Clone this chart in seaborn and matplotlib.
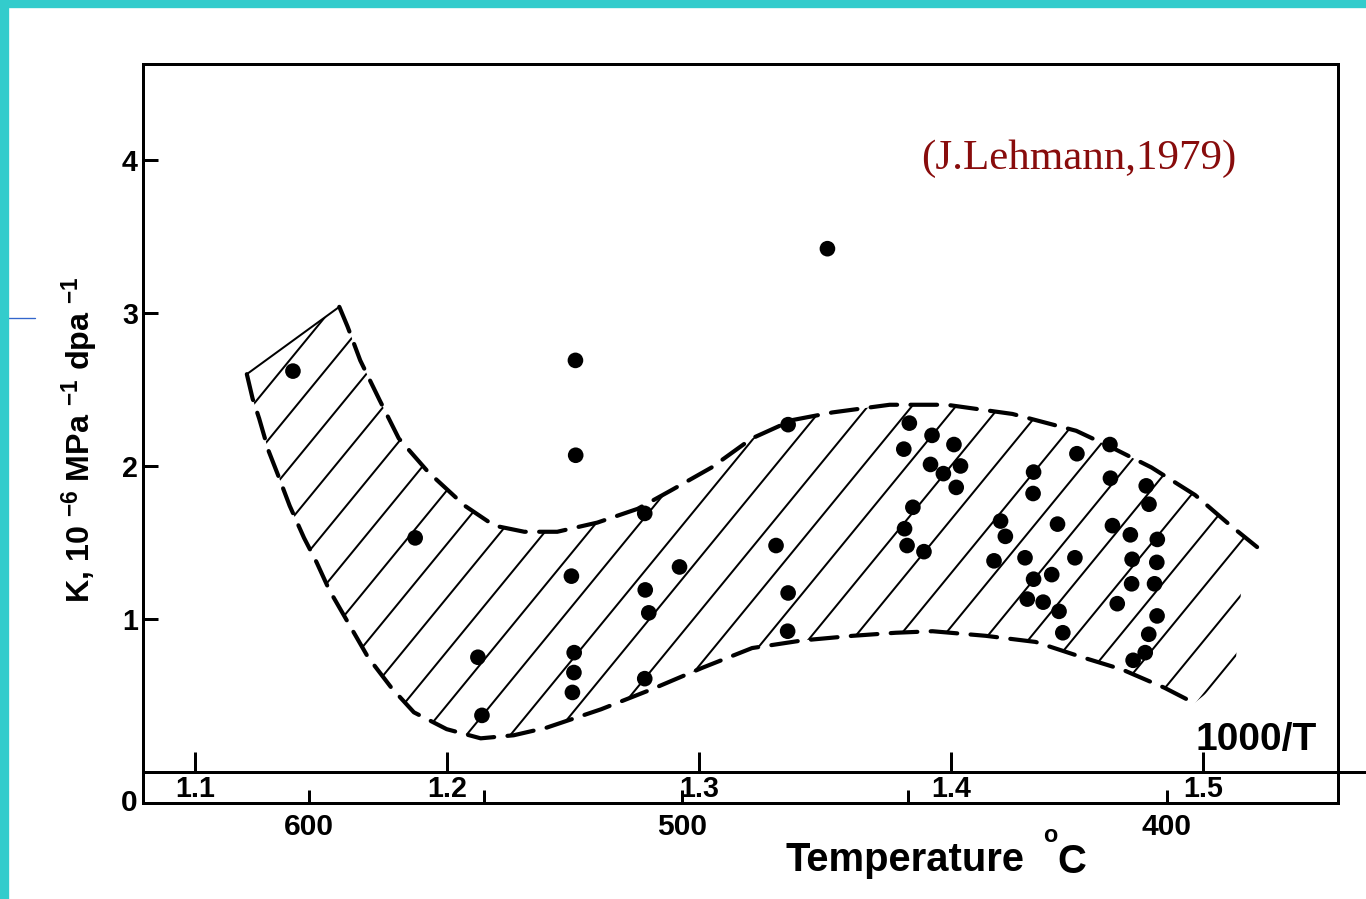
import numpy as np
import matplotlib
matplotlib.use('Agg')
import matplotlib.pyplot as plt
import seaborn as sns
from matplotlib.patches import Rectangle
from matplotlib.lines import Line2D
from matplotlib.collections import LineCollection
from matplotlib.transforms import IdentityTransform

# ---------------- data (1000/T, K) ----------------
pts_x = [1.1389, 1.1874, 1.2123, 1.2139, 1.2510, 1.2511, 1.2494, 1.2505, 1.2504, 1.2498,
         1.2785, 1.2787, 1.2801, 1.2785, 1.2923, 1.3510, 1.3306, 1.3354, 1.3354, 1.3352,
         1.3835, 1.3925, 1.4012, 1.3813, 1.3919, 1.3970, 1.4038, 1.4021, 1.3849, 1.3816,
         1.3826, 1.3893,
         1.4328, 1.4326, 1.4197, 1.4216, 1.4171, 1.4294, 1.4423, 1.4500, 1.4492, 1.4328,
         1.4400, 1.4303, 1.4366, 1.4429, 1.4444,
         1.4631, 1.4633, 1.4775, 1.4786, 1.4641, 1.4712, 1.4819, 1.4719, 1.4817, 1.4717,
         1.4808, 1.4660, 1.4818, 1.4785, 1.4771, 1.4723]
pts_y = [2.62, 1.53, 0.75, 0.37, 2.69, 2.07, 1.28, 0.78, 0.65, 0.52,
         1.69, 1.19, 1.04, 0.61, 1.34, 3.42, 1.48, 2.27, 1.17, 0.92,
         2.28, 2.20, 2.14, 2.11, 2.01, 1.95, 2.00, 1.86, 1.73, 1.59,
         1.48, 1.44,
         1.96, 1.82, 1.64, 1.54, 1.38, 1.40, 1.62, 2.08, 1.40, 1.26,
         1.29, 1.13, 1.11, 1.05, 0.91,
         2.14, 1.92, 1.87, 1.75, 1.61, 1.55, 1.52, 1.39, 1.37, 1.23,
         1.23, 1.10, 1.02, 0.90, 0.78, 0.73]

# band boundaries
upper_x = [1.1573, 1.1606, 1.1656, 1.1733, 1.1809, 1.1926, 1.2071, 1.2188, 1.2307, 1.2438,
           1.2597, 1.2757, 1.2889, 1.3050, 1.3210, 1.3371, 1.3530, 1.3757, 1.3983, 1.4244,
           1.4497, 1.4639, 1.4796, 1.4969, 1.5110, 1.5215]
upper_y = [3.04, 2.91, 2.69, 2.43, 2.18, 1.96, 1.74, 1.61, 1.57, 1.57,
           1.63, 1.72, 1.84, 1.99, 2.18, 2.30, 2.35, 2.40, 2.40, 2.34,
           2.23, 2.12, 1.99, 1.81, 1.61, 1.47]
lower_x = [1.1206, 1.1229, 1.1255, 1.1292, 1.1330, 1.1376, 1.1433, 1.1483, 1.1533, 1.1610,
           1.1687, 1.1780, 1.1869, 1.1999, 1.2134, 1.2265, 1.2396, 1.2612, 1.2812, 1.3012,
           1.3211, 1.3411, 1.3610, 1.3781, 1.3927, 1.4138, 1.4336, 1.4521, 1.4679, 1.4848,
           1.4966]
lower_y = [2.60, 2.44, 2.31, 2.10, 1.94, 1.74, 1.53, 1.37, 1.19, 0.97,
           0.75, 0.55, 0.39, 0.28, 0.22, 0.24, 0.29, 0.41, 0.54, 0.68,
           0.81, 0.86, 0.89, 0.91, 0.92, 0.89, 0.85, 0.75, 0.67, 0.55,
           0.45]
cap_x = [1.5128, 1.5153]
cap_y = [0.67, 1.22]

# axes ticks
k_ticks = [1, 2, 3, 4]
k_labels = ['1', '2', '3', '4']
inv_ticks = [1.1, 1.2, 1.3, 1.4, 1.5]
inv_labels = ['1.1', '1.2', '1.3', '1.4', '1.5']
temp_c = [600, 550, 500, 450, 400]
temp_labels = ['600', '', '500', '', '400']

# ---------------- style ----------------
sns.set_style('ticks')
plt.rcParams['font.family'] = ['Liberation Sans', 'DejaVu Sans']
plt.rcParams['font.weight'] = 'bold'
plt.rcParams['text.color'] = 'black'
plt.rcParams['axes.labelcolor'] = 'black'
plt.rcParams['xtick.color'] = 'black'
plt.rcParams['ytick.color'] = 'black'
plt.rcParams['mathtext.fontset'] = 'custom'
plt.rcParams['mathtext.rm'] = 'Liberation Sans:bold'
plt.rcParams['mathtext.it'] = 'Liberation Sans:bold'
plt.rcParams['mathtext.bf'] = 'Liberation Sans:bold'
plt.rcParams['mathtext.default'] = 'rm'
plt.rcParams['lines.scale_dashes'] = False

W, H, DPI = 1366, 899, 240
fig = plt.figure(figsize=(W / DPI, H / DPI), dpi=DPI)
fig.patch.set_facecolor('white')
L, R, T, B = 143, 1338, 64, 803
ax = fig.add_axes([L / W, 1 - B / H, (R - L) / W, (B - T) / H])
ax.set_facecolor('white')

# band outline (invisible) used as clip region for the hatching
poly_x = list(lower_x) + list(cap_x) + list(upper_x[::-1])
poly_y = list(lower_y) + list(cap_y) + list(upper_y[::-1])
band = ax.fill(poly_x, poly_y, facecolor='none', edgecolor='none', linewidth=0, zorder=1)[0]

# hatching: diagonal strokes ~44 px apart, drawn in pixel space, clipped to the band
slope, step = 1.22, 44
segs = [[(x0, 0), (x0 + H / slope, H)] for x0 in np.arange(-900, W + 50, step)]
hatch = LineCollection(segs, colors='black', linewidths=0.6, transform=IdentityTransform(),
                       zorder=1)
ax.add_collection(hatch, autolim=False)
hatch.set_clip_path(band)

ax.plot(upper_x, upper_y, color='black', lw=1.25, linestyle=(0, (8, 4)),
        dash_capstyle='round', zorder=2)
ax.plot(lower_x, lower_y, color='black', lw=1.25, linestyle=(0, (8, 4)),
        dash_capstyle='round', zorder=2)
ax.plot([lower_x[0], upper_x[0]], [lower_y[0], upper_y[0]], color='black', lw=0.6, zorder=2)

# data points
sns.scatterplot(x=pts_x, y=pts_y, ax=ax, color='black', s=22, edgecolor='none',
                linewidth=0, legend=False, zorder=3)

ax.set_xlim(1.0794, 1.5536)
ax.set_ylim(-0.2026, 4.627)

# frame
for s in ax.spines.values():
    s.set_visible(True)
    s.set_linewidth(0.9)
    s.set_color('black')

ax.set_yticks(k_ticks, labels=k_labels)
ax.tick_params(axis='y', left=True, right=False, direction='in', length=4.5, width=0.9,
               pad=1.5, labelsize=8.6, colors='black')
temp_pos = 1000.0 / (np.array(temp_c) + 273.15)
ax.set_xticks(temp_pos, labels=temp_labels)
ax.tick_params(axis='x', bottom=True, top=False, direction='in', length=4, width=0.9,
               pad=3.0, labelsize=9.0, colors='black')
ax.text(-0.005, 0, '0', transform=ax.transAxes, ha='right', va='center', fontsize=9.0)

# 1000/T axis inside the strip
ylo, yhi = ax.get_ylim()
sec = ax.secondary_xaxis((0 - ylo) / (yhi - ylo))
sec.set_xticks(inv_ticks, labels=inv_labels)
sec.tick_params(axis='x', direction='in', length=6, width=0.9, pad=1.0, labelsize=8.6,
                colors='black')
sec.spines['bottom'].set_linewidth(0.9)
sec.spines['bottom'].set_color('black')
ax.plot([1.0, 1.03], [0, 0], transform=ax.get_yaxis_transform(), clip_on=False,
        color='black', lw=0.9)

# texts
fig.text(1317 / W, 1 - 750 / H, '1000/T', ha='right', va='baseline', fontsize=11.7)
fig.text(785 / W, 1 - 871 / H, 'Temperature', ha='left', va='baseline', fontsize=12.0)
fig.text(1043 / W, 1 - 842 / H, 'o', ha='left', va='baseline', fontsize=7.0)
fig.text(1057 / W, 1 - 873 / H, 'C', ha='left', va='baseline', fontsize=12.0)
fig.text(80 / W, 1 - 440 / H, r'K, 10 $^{-6}$ MPa $^{-1}$ dpa $^{-1}$', rotation=90,
         ha='center', va='center', fontsize=9.7)
fig.text(1079 / W, 1 - 159 / H, '(J.Lehmann,1979)', family=['Liberation Serif', 'DejaVu Serif'],
         fontweight='normal', fontsize=12.9, color='#880c0c', ha='center', va='center')

# slide border
fig.add_artist(Rectangle((0, 0), 7 / W, 1, transform=fig.transFigure, color='#33cccc',
                         zorder=10))
fig.add_artist(Rectangle((0, 1 - 6 / H), 1, 6 / H, transform=fig.transFigure,
                         color='#33cccc', zorder=10))
fig.add_artist(Line2D([7 / W, 35 / W], [1 - 318 / H, 1 - 318 / H], transform=fig.transFigure,
                      color='#3366cc', lw=0.4))

fig.savefig('out.png', dpi=DPI)
